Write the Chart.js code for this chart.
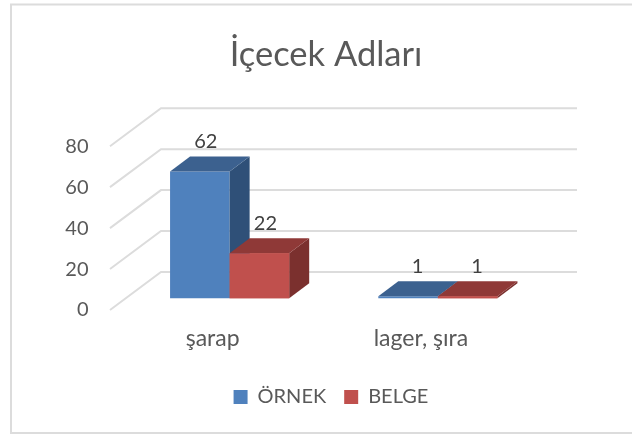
<!DOCTYPE html>
<html><head><meta charset="utf-8">
<style>
html,body{margin:0;padding:0;background:#fff;}
#box{position:absolute;left:0;top:0;width:632px;height:435px;}
</style>
<script src="https://cdn.jsdelivr.net/npm/chart.js@4"></script>
</head><body><div id="box"><canvas id="c" width="632" height="435"></canvas></div>
<script>
const titleText = 'İçecek Adları';
const categories = ['şarap', 'lager, şıra'];
const ornekValues = [62, 1];
const belgeValues = [22, 1];
const tickValues = [0, 20, 40, 60, 80];

const FONT = 'Lato, Carlito, sans-serif';
const DEPTH_X = 20, DEPTH_Y = 15;
const WALL_X = 51, WALL_Y = 38;

const frame3d = {
  id: 'frame3d',
  afterLayout(chart) {
    chart.titleBlock.left += 30; chart.titleBlock.right += 30;
    chart.legend.left += 35; chart.legend.right += 35;
  },
  beforeDraw(chart) {
    const ctx = chart.ctx;
    ctx.save();
    ctx.strokeStyle = '#dcdcdc';
    ctx.lineWidth = 2;
    ctx.beginPath();
    ctx.moveTo(632, 4.5); ctx.lineTo(11, 4.5); ctx.lineTo(11, 433); ctx.lineTo(632, 433);
    ctx.stroke();
    const a = chart.scales.yAxis, left = 110, right = 577;
    ctx.lineWidth = 2;
    tickValues.forEach(v => {
      const y = a.getPixelForValue(v);
      ctx.beginPath();
      ctx.moveTo(left, y);
      ctx.lineTo(left + WALL_X, y - WALL_Y);
      ctx.lineTo(right, y - WALL_Y);
      ctx.stroke();
    });
    ctx.restore();
  },
  afterDatasetsDraw(chart) {
    const ctx = chart.ctx;
    const faces = [['#2f5078', '#3c618f'], ['#7b302e', '#8f3937']];
    ctx.save();
    chart.data.datasets.forEach((ds, i) => {
      const bars = chart.getDatasetMeta(i).data;
      bars.forEach(b => {
        const l = b.x - b.width / 2, r = b.x + b.width / 2;
        ctx.fillStyle = faces[i][0];
        ctx.beginPath();
        ctx.moveTo(r, b.y); ctx.lineTo(r + DEPTH_X, b.y - DEPTH_Y);
        ctx.lineTo(r + DEPTH_X, b.base - DEPTH_Y); ctx.lineTo(r, b.base);
        ctx.closePath(); ctx.fill();
        ctx.fillStyle = faces[i][1];
        ctx.beginPath();
        ctx.moveTo(l, b.y); ctx.lineTo(l + DEPTH_X, b.y - DEPTH_Y);
        ctx.lineTo(r + DEPTH_X, b.y - DEPTH_Y); ctx.lineTo(r, b.y);
        ctx.closePath(); ctx.fill();
        if (i === 1) b.draw(ctx);
      });
    });
    ctx.font = '20px ' + FONT;
    ctx.fillStyle = '#404040';
    ctx.textAlign = 'center';
    ctx.textBaseline = 'middle';
    chart.data.datasets.forEach((ds, i) => {
      chart.getDatasetMeta(i).data.forEach((b, j) => {
        ctx.fillText(String(ds.data[j]), b.x + (j === 0 ? 6 : 9.5), b.y - 30);
      });
    });
    ctx.restore();
  }
};

new Chart(document.getElementById('c'), {
  type: 'bar',
  data: {
    labels: categories,
    datasets: [
      { label: 'ÖRNEK', data: ornekValues, backgroundColor: '#4f81bd', yAxisID: 'y', xAxisID: 'x' },
      { label: 'BELGE', data: belgeValues, backgroundColor: '#c0504d', yAxisID: 'y', xAxisID: 'x' }
    ]
  },
  plugins: [frame3d],
  options: {
    responsive: false,
    animation: false,
    devicePixelRatio: 1,
    layout: { padding: { left: 50, right: 90, top: 0, bottom: 18 } },
    datasets: { bar: { barPercentage: 1, categoryPercentage: 0.572 } },
    plugins: {
      tooltip: { enabled: false },
      title: {
        display: true, text: titleText, color: '#595959',
        font: { family: FONT, size: 34.5, weight: 'normal' },
        padding: { top: 34, bottom: 32.4 }
      },
      legend: {
        position: 'bottom',
        labels: {
          color: '#595959',
          font: { family: FONT, size: 20 },
          boxWidth: 14, boxHeight: 14, padding: 18
        }
      }
    },
    scales: {
      x: {
        grid: { display: false },
        border: { display: false },
        ticks: { color: '#595959', font: { family: FONT, size: 23 }, labelOffset: -17, padding: 7 },
        afterFit(s) { s.height = 59; }
      },
      y: {
        display: false,
        min: -5.68, max: 93.1
      },
      yAxis: {
        position: 'left',
        min: 0, max: 98.77,
        grid: { display: false },
        border: { display: false },
        afterBuildTicks(s) { s.ticks = tickValues.map(v => ({ value: v })); },
        ticks: { color: '#595959', font: { family: FONT, size: 20 }, padding: 29 },
        afterFit(s) { s.width = 75.5; }
      }
    }
  }
});
</script></body></html>
